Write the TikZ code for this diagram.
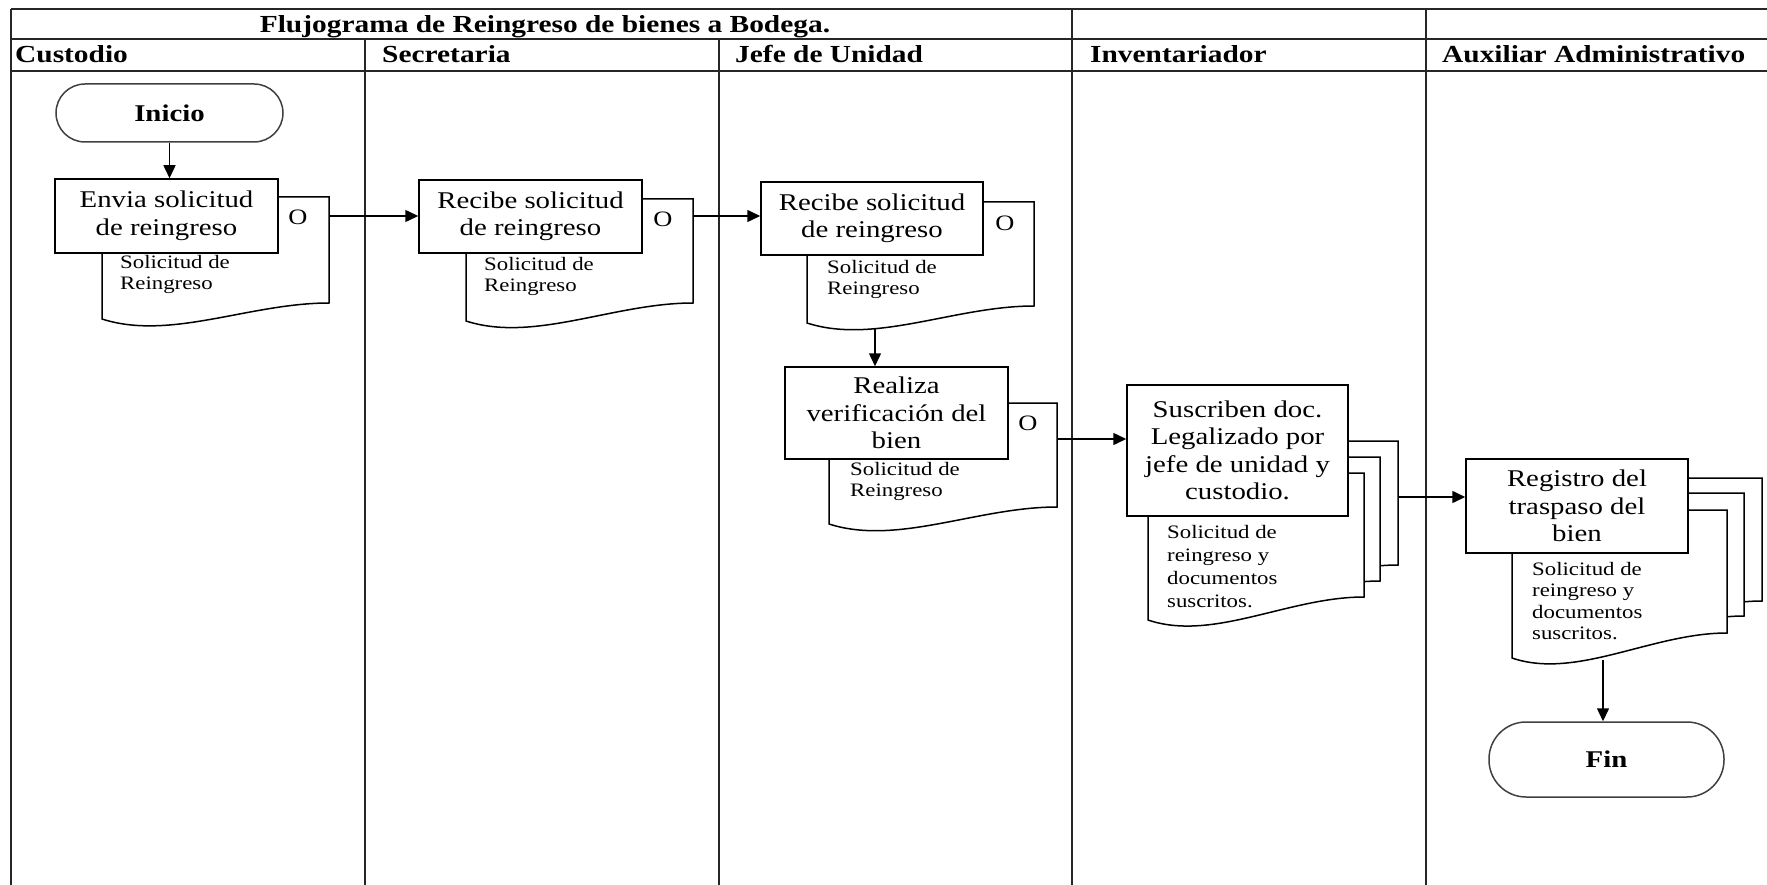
\documentclass[tikz,border=0pt]{standalone}
\usepackage{fontspec}
\setmainfont{Liberation Serif}[FakeStretch=1.2]
\usetikzlibrary{arrows.meta}

% document symbol: left, top, right, bottom right, bottom left
\newcommand{\docshape}[5]{%
  \path[draw,fill=white,line width=1.5pt] (#1,#2) -- (#3,#2) -- (#3,#4)
    .. controls ({#1+0.65*(#3-#1)},#4) and ({#1+0.3*(#3-#1)},{#5+22}) .. (#1,#5) -- cycle;
}

\begin{document}
\begin{tikzpicture}[x=1pt,y=-1pt,
    lane/.style={draw=black!85,line width=2pt},
    lanehead/.style={anchor=base west,inner sep=0pt,font=\fontsize{24.5}{26}\selectfont\bfseries},
    terminal/.style={draw=black!75,fill=white,line width=1.5pt,font=\fontsize{24}{26}\selectfont\bfseries},
    activity/.style={draw,fill=white,line width=1.5pt,align=center,inner sep=2pt,font=\fontsize{24}{27.5}\selectfont},
    olabel/.style={inner sep=0pt,font=\fontsize{22}{24}\selectfont},
    doclabel/.style={anchor=north west,inner sep=0pt,align=left,font=\fontsize{19}{21.5}\selectfont},
    flow/.style={draw,line width=1.5pt,-{Triangle[length=13pt,width=12pt]}}]
    \useasboundingbox (0,0) rectangle (1767,885);

    % table
    \path[lane] (11,9) -- (1767,9);
    \path[lane] (11,39) -- (1767,39);
    \path[lane] (11,71) -- (1767,71);
    \path[lane] (11,9) -- (11,885);
    \path[lane] (365,39) -- (365,885);
    \path[lane] (719,39) -- (719,885);
    \path[lane] (1072,9) -- (1072,885);
    \path[lane] (1426,9) -- (1426,885);

    \node[lanehead,anchor=base] (title) at (545,33) {Flujograma de Reingreso de bienes a Bodega.};
    \node[lanehead] (h1) at (15,63) {Custodio};
    \node[lanehead] (h2) at (382,63) {Secretaria};
    \node[lanehead] (h3) at (735,63) {Jefe de Unidad};
    \node[lanehead] (h4) at (1090,63) {Inventariador};
    \node[lanehead] (h5) at (1442,63) {Auxiliar Administrativo};

    % documents
    \docshape{102}{197}{329}{303}{319}
    \docshape{466}{199}{693}{303}{321}
    \docshape{807}{202}{1034}{306}{323}
    \docshape{829}{403}{1057}{507}{524}
    \docshape{1182}{441}{1398}{565}{588}
    \docshape{1164}{457}{1380}{581}{604}
    \docshape{1148}{473}{1364}{597}{620}
    \docshape{1547}{478}{1762}{601}{626}
    \docshape{1529}{493}{1744}{616}{641}
    \docshape{1512}{510}{1727}{633}{658}

    \node[doclabel] (t1) at (120,255) {Solicitud de\\Reingreso};
    \node[doclabel] (t2) at (484,257) {Solicitud de\\Reingreso};
    \node[doclabel] (t3) at (827,260) {Solicitud de\\Reingreso};
    \node[doclabel] (t4) at (850,462) {Solicitud de\\Reingreso};
    \node[doclabel,font=\fontsize{19}{23}\selectfont] (t5) at (1167,525) {Solicitud de\\reingreso y\\documentos\\suscritos.};
    \node[doclabel] (t6) at (1532,562) {Solicitud de\\reingreso y\\documentos\\suscritos.};

    \node[olabel] (o1) at (298,217) {O};
    \node[olabel] (o2) at (663,219) {O};
    \node[olabel] (o3) at (1005,223) {O};
    \node[olabel] (o4) at (1028,423) {O};

    % steps
    \node[terminal,rounded corners=29pt,minimum width=227pt,minimum height=58pt] (0) at (169.5,113) {Inicio};
    \node[activity,minimum width=223pt,minimum height=74pt] (1) at (166.5,216) {Envia solicitud\\de reingreso};
    \node[activity,minimum width=223pt,minimum height=73pt] (2) at (530.5,216.5) {Recibe solicitud\\de reingreso};
    \node[activity,minimum width=222pt,minimum height=73pt] (3) at (872,218.5) {Recibe solicitud\\de reingreso};
    \node[activity,minimum width=223pt,minimum height=92pt] (4) at (896.5,413) {Realiza\\verificación del\\bien};
    \node[activity,minimum width=221pt,minimum height=131pt] (5) at (1237.5,450.5) {Suscriben doc.\\Legalizado por\\jefe de unidad y\\custodio.};
    \node[activity,minimum width=222pt,minimum height=94pt] (6) at (1577,506) {Registro del\\traspaso del\\bien};
    \node[terminal,rounded corners=37pt,minimum width=235pt,minimum height=75pt] (7) at (1606.5,759.5) {Fin};

    \coordinate (c1) at (329,216);
    \coordinate (c2) at (693,216);
    \coordinate (c3) at (875,329);
    \coordinate (c4) at (1057,439);
    \coordinate (c5) at (1398,497);
    \coordinate (c6) at (1603,660);

    \path[flow] (0) -- (0 |- 1.north);
    \path[flow] (c1) -- (c1 -| 2.west);
    \path[flow] (c2) -- (c2 -| 3.west);
    \path[flow] (c3) -- (c3 |- 4.north);
    \path[flow] (c4) -- (c4 -| 5.west);
    \path[flow] (c5) -- (c5 -| 6.west);
    \path[flow] (c6) -- (c6 |- 7.north);
\end{tikzpicture}
\end{document}
